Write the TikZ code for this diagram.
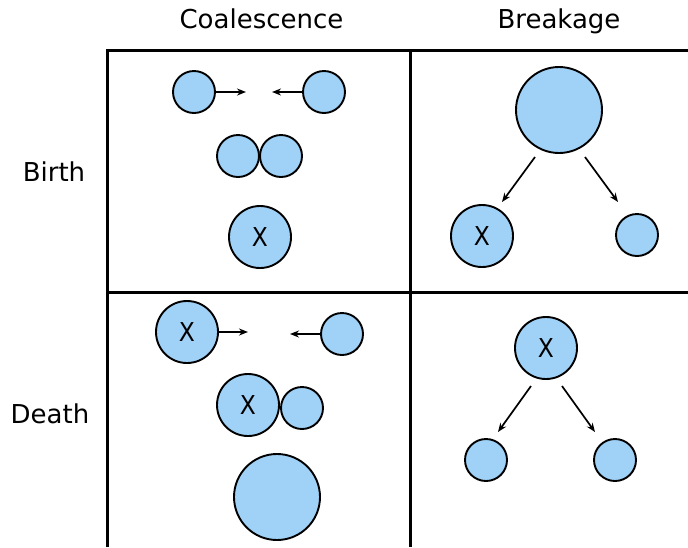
\documentclass[tikz,border=0pt]{standalone}
\usepackage{fontspec}
\setmainfont{DejaVu Sans}
\usetikzlibrary{arrows.meta}
\definecolor{bub}{RGB}{160,210,248}
\newcommand{\xmark}{\scalebox{0.9}[1]{X}}
\begin{document}
\begin{tikzpicture}[x=1pt,y=-1pt,
  bubble/.style={circle,draw=black,line width=1.9pt,fill=bub,inner sep=0pt,font=\fontsize{26}{30}\selectfont},
  sm/.style={bubble,minimum size=42pt},
  md/.style={bubble,minimum size=62pt},
  lg/.style={bubble,minimum size=86pt},
  grid/.style={line width=3pt},
  arr/.style={line width=1.7pt,-{Stealth[length=9pt,width=7pt]}},
  lbl/.style={font=\fontsize{26}{30}\selectfont,anchor=base,inner sep=0pt}]
\useasboundingbox (0,0) rectangle (688,547);
% grid
\draw[grid] (107,547) -- (107,50) -- (688,50);
\draw[grid] (410,50) -- (410,547);
\draw[grid] (107,292) -- (688,292);
% labels
\node[lbl] (hc) at (261.5,28) {Coalescence};
\node[lbl] (hb) at (559,28) {Breakage};
\node[lbl] (rb) at (54,181) {Birth};
\node[lbl] (rd) at (50,423) {Death};
% Birth / Coalescence
\node[sm] (b1) at (194,92) {};
\node[sm] (b2) at (324,92) {};
\coordinate (b1t) at (246,92);
\coordinate (b2t) at (272,92);
\draw[arr] (b1.east) -- (b1t);
\draw[arr] (b2.west) -- (b2t);
\node[sm] (b3) at (238,156) {};
\node[sm] (b4) at (281,156) {};
\node[md] (b5) at (260,237) {\xmark};
% Birth / Breakage
\node[lg] (k1) at (559,110) {};
\node[md] (k2) at (482,236) {\xmark};
\node[sm] (k3) at (637,235) {};
\coordinate (k1l) at (535,157);
\coordinate (k1r) at (585,157);
\coordinate (k2t) at (502,202);
\coordinate (k3t) at (618,202);
\draw[arr] (k1l) -- (k2t);
\draw[arr] (k1r) -- (k3t);
% Death / Coalescence
\node[md] (d1) at (187,332) {\xmark};
\node[sm] (d2) at (342,334) {};
\coordinate (d1t) at (248,332);
\coordinate (d2t) at (290,334);
\draw[arr] (d1.east) -- (d1t);
\draw[arr] (d2.west) -- (d2t);
\node[md] (d3) at (248,405) {\xmark};
\node[sm] (d4) at (302,408) {};
\node[lg] (d5) at (277,497) {};
% Death / Breakage
\node[md] (e1) at (546,348) {\xmark};
\node[sm] (e2) at (486,460) {};
\node[sm] (e3) at (615,460) {};
\coordinate (e1l) at (531,386);
\coordinate (e1r) at (562,386);
\coordinate (e2t) at (498,432);
\coordinate (e3t) at (595,432);
\draw[arr] (e1l) -- (e2t);
\draw[arr] (e1r) -- (e3t);
\end{tikzpicture}
\end{document}
